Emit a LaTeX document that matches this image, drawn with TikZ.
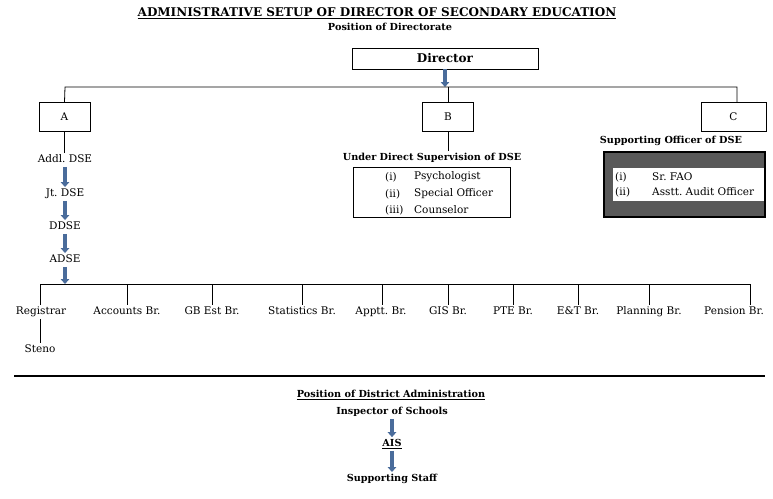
\documentclass[tikz,border=0pt]{standalone}
\usepackage{fontspec}
\setmainfont{DejaVu Serif}
\usepackage{tikz}
\usetikzlibrary{arrows.meta,positioning,calc}
\definecolor{arrcol}{HTML}{4A6C9B}
\definecolor{shadecol}{HTML}{595959}
\frenchspacing

\begin{document}
\begin{tikzpicture}[x=1pt,y=-1pt,
  obox/.style={draw, line width=0.8pt, minimum width=51pt, minimum height=29pt, inner sep=0pt, font=\fontsize{10.5}{12}\selectfont},
  conn/.style={line width=0.8pt},
  blarr/.style={-{Triangle[length=5pt,width=8.5pt]}, line width=4pt, arrcol},
  post/.style={inner sep=2pt, text height=7.5pt, text depth=2pt, font=\fontsize{10.5}{12}\selectfont},
  hdr/.style={inner sep=2pt, font=\fontsize{9.7}{11}\selectfont\bfseries},
  item/.style={anchor=west, inner sep=0pt, font=\fontsize{10.5}{12}\selectfont}
]
  \useasboundingbox (0,0) rectangle (773,498);

  % heading
  \node[font=\fontsize{12}{14}\selectfont\bfseries] (title) at (377,13) {\underline{ADMINISTRATIVE SETUP OF DIRECTOR OF SECONDARY EDUCATION}};
  \node[hdr] (posdir) at (390,27) {Position of Directorate};

  % Director
  \node[draw, line width=0.8pt, minimum width=186pt, minimum height=21pt, inner sep=0pt,
        font=\fontsize{12}{14}\selectfont\bfseries] (dir) at (445,58.5) {Director};
  \coordinate (tl) at (65,87);
  \coordinate (tr) at (737,87);
  \draw[blarr] (dir.south) -- (dir.south |- tl);

  % A, B, C
  \node[obox] (A) at (64.5,117) {A};
  \node[obox] (B) at (448,117) {B};
  \node[obox, minimum width=65pt] (C) at (733.5,117) {C};
  \draw[conn] (A.north) -- (tl) -- (tr) -- (tr |- C.north);
  \draw[conn] (B.north |- tl) -- (B.north);

  % A: officers
  \node[post] (addl) at (65,160) {Addl. DSE};
  \node[post] (jt) at (65,194) {Jt. DSE};
  \node[post] (ddse) at (65,227) {DDSE};
  \node[post] (adse) at (65,260) {ADSE};
  \draw[conn] (A.south) -- (A.south |- addl.north);
  \draw[blarr] (addl) -- (jt);
  \draw[blarr] (jt) -- (ddse);
  \draw[blarr] (ddse) -- (adse);
  \coordinate (bl) at (40,284);
  \coordinate (br) at (750,284);
  \draw[blarr] (adse) -- (adse |- bl);
  \draw[conn] (bl) -- (br);

  % branches
  \foreach \nm/\xx/\txt in {reg/41/Registrar, acc/127/Accounts Br., gbe/212/GB Est Br.,
      sta/302/Statistics Br., app/381/Apptt. Br., gis/448/GIS Br., pte/513/PTE Br.,
      et/578/E\&T Br., pla/649/Planning Br., pen/734/Pension Br.}{
    \node[post] (\nm) at (\xx,312) {\txt};
  }
  \foreach \nm/\xx in {reg/40, acc/127, gbe/212, sta/302, app/382, gis/448, pte/513,
      et/578, pla/649, pen/750}{
    \draw[conn] (\xx,284) -- (\xx,0 |- \nm.north);
  }
  \node[post] (steno) at (40,350) {Steno};
  \draw[conn] (reg.south -| 40,0) -- (40,0 |- steno.north);

  % B: direct supervision
  \node[hdr] (sup) at (432,158) {Under Direct Supervision of DSE};
  \draw[conn] (B.south) -- (B.south |- sup.north);
  \node[draw, line width=0.8pt, minimum width=157pt, minimum height=50pt, inner sep=0pt] (supbox) at (431.5,192) {};
  \node[item] (s1) at (385,177) {(i)};
  \node[item] (s2) at (385,194) {(ii)};
  \node[item] (s3) at (385,210) {(iii)};
  \node[item] (psy) at (414,177) {Psychologist};
  \node[item] (spo) at (414,194) {Special Officer};
  \node[item] (cou) at (414,210) {Counselor};

  % C: supporting officers
  \node[hdr] (supp) at (671,141) {Supporting Officer of DSE};
  \node[draw, line width=2pt, fill=shadecol, minimum width=161pt, minimum height=65pt, inner sep=0pt] (cbox) at (684,184) {};
  \fill[white] (613,168) rectangle (764,201);
  \node[item] (c1) at (615,177) {(i)};
  \node[item] (c2) at (615,192) {(ii)};
  \node[item] (fao) at (652,177) {Sr. FAO};
  \node[item] (aud) at (652,192) {Asstt. Audit Officer};

  % separator
  \draw[line width=2.5pt] (14,376) -- (765,376);

  % district
  \node[font=\fontsize{9.7}{11}\selectfont\bfseries] (posdist) at (391,395) {\underline{Position of District Administration}};
  \node[hdr] (ios) at (392,412) {Inspector of Schools};
  \node[hdr] (ais) at (392,444) {\underline{AIS}};
  \node[hdr] (staff) at (392,479) {Supporting Staff};
  \draw[blarr] (ios) -- (ais);
  \draw[blarr] (ais) -- (staff);
\end{tikzpicture}
\end{document}
